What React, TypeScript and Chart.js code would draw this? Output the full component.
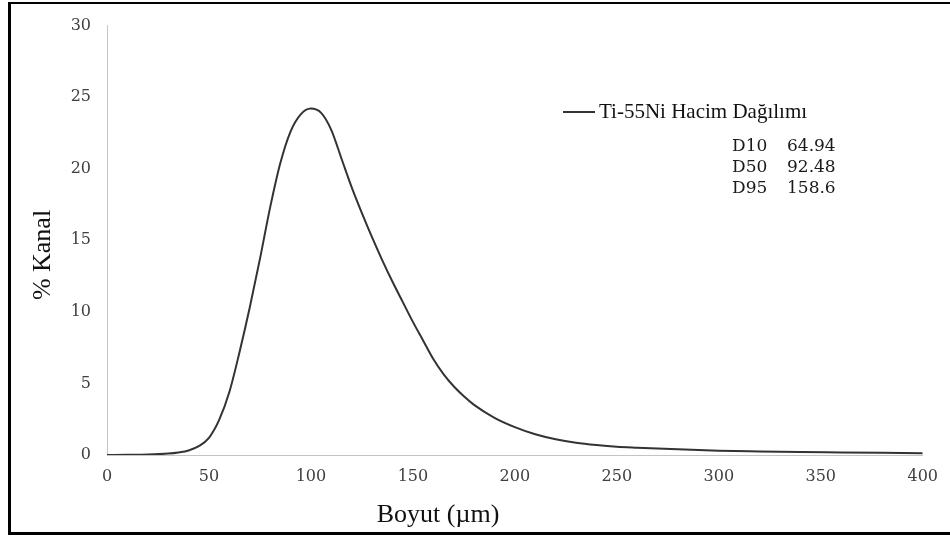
import React, { useEffect, useRef } from "react";
import { Chart, registerables } from "chart.js";

Chart.register(...registerables);

// Particle size (µm) and volume share per channel (%)
const sizes = [0, 10, 20, 30, 35, 40, 45, 50, 55, 60, 65, 70, 75, 80, 85, 90, 95, 100, 105, 110, 115, 120, 125, 130, 135, 140, 145, 150, 155, 160, 165, 170, 175, 180, 190, 200, 210, 220, 230, 240, 250, 260, 270, 280, 290, 300, 320, 340, 360, 380, 400];
const channel = [0, 0.01, 0.03, 0.1, 0.18, 0.32, 0.62, 1.2, 2.45, 4.4, 7.2, 10.3, 13.7, 17.3, 20.4, 22.6, 23.8, 24.2, 23.9, 22.7, 20.7, 18.7, 16.9, 15.2, 13.6, 12.1, 10.7, 9.3, 8.0, 6.7, 5.65, 4.8, 4.1, 3.5, 2.6, 1.95, 1.45, 1.1, 0.86, 0.7, 0.58, 0.51, 0.45, 0.4, 0.35, 0.3, 0.25, 0.21, 0.18, 0.15, 0.12];

const seriesName = "Ti-55Ni Hacim Dağılımı";
const statLabels = ["D10", "D50", "D95"];
const statValues = ["64.94", "92.48", "158.6"];

const xTitle = "Boyut (µm)";
const yTitle = "% Kanal";

const W = 950;
const H = 537;

const annotations = {
  id: "annotations",
  afterDraw(chart: any) {
    const ctx = chart.ctx;
    ctx.save();
    ctx.fillStyle = "#111";
    // axis titles
    ctx.font = '26px "Liberation Serif"';
    ctx.textAlign = "center";
    ctx.textBaseline = "alphabetic";
    ctx.fillText(xTitle, 438, 522);
    ctx.save();
    ctx.translate(50, 255);
    ctx.rotate(-Math.PI / 2);
    ctx.fillText(yTitle, 0, 0);
    ctx.restore();

    // legend
    ctx.strokeStyle = "#333";
    ctx.lineWidth = 2;
    ctx.beginPath();
    ctx.moveTo(563, 112);
    ctx.lineTo(595, 112);
    ctx.stroke();
    ctx.font = '21px "Liberation Serif"';
    ctx.textAlign = "left";
    ctx.textBaseline = "middle";
    ctx.fillText(seriesName, 599, 112);

    // percentile table
    ctx.font = '17px "DejaVu Serif"';
    ctx.fillStyle = "#1a1a1a";
    const rows = [147, 168, 189];
    statLabels.forEach((lab, i) => {
      ctx.textAlign = "left";
      ctx.fillText(lab, 732, rows[i]);
      ctx.fillText(statValues[i], 787, rows[i]);
    });
    ctx.restore();
  },
};

export default function App() {
  const canvasRef = useRef<HTMLCanvasElement | null>(null);

  useEffect(() => {
    const canvas = canvasRef.current;
    if (!canvas) return;
    const chart = new Chart(canvas, {
      type: "line",
      data: {
        datasets: [
          {
            label: seriesName,
            data: sizes.map((s, i) => ({ x: s, y: channel[i] })),
            borderColor: "#333",
            borderWidth: 2,
            pointRadius: 0,
            fill: false,
            cubicInterpolationMode: "monotone",
          },
        ],
      },
      options: {
        responsive: false,
        animation: false,
        layout: { padding: { top: 25, right: 24, left: 0, bottom: 0 } },
        plugins: {
          legend: { display: false },
          tooltip: { enabled: false },
        },
        scales: {
          x: {
            type: "linear",
            min: 0,
            max: 400,
            afterFit: (scale: any) => {
              scale.height = 82;
            },
            ticks: {
              stepSize: 50,
              padding: 12,
              color: "#404040",
              font: { family: "DejaVu Serif", size: 16 },
            },
            grid: { drawOnChartArea: false, drawTicks: false },
            border: { color: "#c4c4c4", width: 1 },
          },
          y: {
            min: 0,
            max: 30,
            afterFit: (scale: any) => {
              scale.width = 107;
            },
            ticks: {
              stepSize: 5,
              padding: 16,
              color: "#404040",
              font: { family: "DejaVu Serif", size: 16 },
            },
            grid: { drawOnChartArea: false, drawTicks: false },
            border: { color: "#c4c4c4", width: 1 },
          },
        },
      },
      plugins: [annotations],
    });
    return () => chart.destroy();
  }, []);

  return (
    <div style={{ position: "absolute", left: 0, top: 0, width: W, height: H, background: "#fff" }}>
      <canvas ref={canvasRef} width={W} height={H} style={{ position: "absolute", left: 0, top: 0 }} />
      <div
        style={{
          position: "absolute",
          left: 8,
          top: 2,
          width: W - 8,
          height: 533,
          boxSizing: "border-box",
          borderLeft: "3px solid #000",
          borderTop: "2px solid #000",
          borderBottom: "3px solid #000",
          pointerEvents: "none",
        }}
      />
    </div>
  );
}
